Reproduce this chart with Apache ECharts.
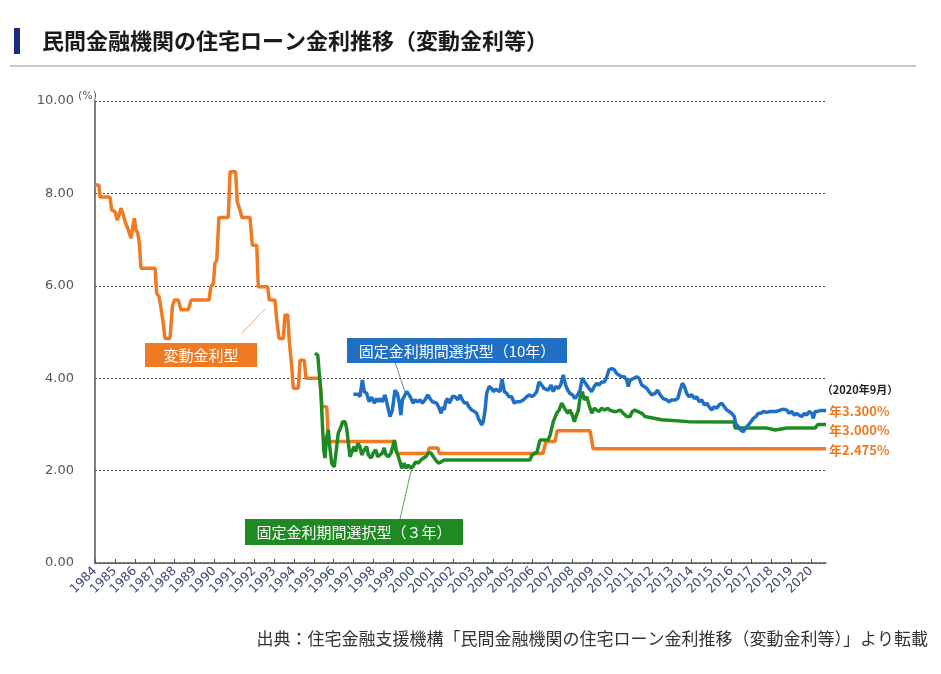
<!DOCTYPE html>
<html><head><meta charset="utf-8">
<script src="https://cdn.jsdelivr.net/npm/echarts@6/dist/echarts.min.js"></script>
<style>html,body{margin:0;padding:0;background:#fff}#c{width:941px;height:674px}</style>
</head><body><div id="c"></div>
<script>
const years = [];
for (let y = 1984; y <= 2020; y++) years.push(y);
const yTicks = [0, 2, 4, 6, 8, 10];

const titleText = '民間金融機関の住宅ローン金利推移（変動金利等）';
const sourceText = '出典：住宅金融支援機構「民間金融機関の住宅ローン金利推移（変動金利等）」より転載';
const nameVariable = '変動金利型';
const name10y = '固定金利期間選択型（10年）';
const name3y = '固定金利期間選択型（３年）';
const asOfText = '（2020年9月）';
const endLabels = ['年3.300%', '年3.000%', '年2.475%'];

const variableRate = [[1984.0,8.18],[1984.2,8.18],[1984.25,7.92],[1984.75,7.92],[1984.84,7.64],[1985.01,7.6],[1985.12,7.42],[1985.21,7.54],[1985.31,7.68],[1985.42,7.54],[1985.54,7.35],[1985.64,7.25],[1985.72,7.21],[1985.81,7.03],[1985.9,7.28],[1985.98,7.46],[1986.06,7.21],[1986.15,7.14],[1986.23,6.92],[1986.31,6.38],[1987.02,6.38],[1987.1,5.84],[1987.22,5.77],[1987.32,5.51],[1987.43,5.19],[1987.52,4.86],[1987.77,4.86],[1987.89,5.55],[1987.99,5.69],[1988.19,5.69],[1988.32,5.48],[1988.69,5.48],[1988.83,5.69],[1989.73,5.69],[1989.83,5.98],[1989.95,6.05],[1990.03,6.49],[1990.12,6.55],[1990.23,7.48],[1990.7,7.48],[1990.79,8.47],[1991.07,8.47],[1991.15,7.82],[1991.29,7.64],[1991.38,7.48],[1991.79,7.48],[1991.91,6.88],[1992.13,6.88],[1992.21,5.98],[1992.68,5.98],[1992.76,5.69],[1993.05,5.69],[1993.14,5.26],[1993.25,4.86],[1993.47,4.86],[1993.55,5.37],[1993.69,5.37],[1993.77,4.79],[1993.89,4.25],[1993.97,3.78],[1994.22,3.78],[1994.31,4.39],[1994.52,4.39],[1994.61,4.0],[1995.31,4.0],[1995.41,3.38],[1995.65,3.38],[1995.74,2.63],[1999.08,2.63],[1999.18,2.37],[2000.74,2.37],[2000.79,2.49],[2001.24,2.49],[2001.3,2.37],[2006.52,2.37],[2006.67,2.63],[2007.13,2.63],[2007.23,2.86],[2008.89,2.86],[2009.04,2.475],[2020.75,2.475]];

const fixed3y = [[1995.06,4.54],[1995.2,4.5],[1995.26,4.18],[1995.36,3.67],[1995.43,3.02],[1995.5,2.45],[1995.56,2.27],[1995.65,2.73],[1995.73,2.88],[1995.82,2.45],[1995.9,2.16],[1996.03,2.08],[1996.15,2.52],[1996.23,2.81],[1996.37,2.95],[1996.45,3.06],[1996.57,3.06],[1996.65,2.92],[1996.74,2.59],[1996.82,2.3],[1996.91,2.34],[1997.02,2.52],[1997.11,2.41],[1997.21,2.59],[1997.32,2.52],[1997.41,2.34],[1997.54,2.45],[1997.66,2.52],[1997.74,2.34],[1997.88,2.27],[1997.99,2.38],[1998.11,2.45],[1998.21,2.3],[1998.33,2.34],[1998.44,2.38],[1998.54,2.49],[1998.63,2.34],[1998.75,2.3],[1998.88,2.38],[1998.97,2.52],[1999.05,2.66],[1999.12,2.45],[1999.22,2.34],[1999.33,2.19],[1999.42,2.05],[1999.54,2.16],[1999.64,2.05],[1999.75,2.12],[1999.89,2.05],[2000.0,2.1],[2000.12,2.19],[2000.25,2.16],[2000.39,2.23],[2000.51,2.27],[2000.63,2.3],[2000.76,2.38],[2000.89,2.38],[2001.01,2.3],[2001.13,2.23],[2001.26,2.16],[2001.4,2.19],[2001.56,2.23],[2005.87,2.23],[2005.97,2.34],[2006.22,2.4],[2006.37,2.66],[2006.78,2.66],[2006.88,2.77],[2007.04,3.06],[2007.21,3.24],[2007.33,3.31],[2007.46,3.46],[2007.54,3.49],[2007.66,3.31],[2007.77,3.24],[2007.88,3.31],[2008.0,3.2],[2008.1,3.06],[2008.18,3.17],[2008.3,3.31],[2008.38,3.56],[2008.5,3.71],[2008.6,3.53],[2008.72,3.6],[2008.84,3.42],[2008.97,3.24],[2009.1,3.35],[2009.22,3.31],[2009.34,3.28],[2009.48,3.35],[2009.61,3.31],[2009.78,3.35],[2009.89,3.31],[2010.06,3.28],[2010.23,3.28],[2010.4,3.31],[2010.56,3.24],[2010.73,3.17],[2010.9,3.17],[2011.01,3.28],[2011.15,3.31],[2011.28,3.28],[2011.49,3.24],[2011.65,3.17],[2011.9,3.15],[2012.49,3.1],[2013.83,3.06],[2016.13,3.05],[2016.18,2.92],[2017.79,2.92],[2017.84,2.88],[2018.19,2.88],[2018.29,2.92],[2018.79,2.92],[2018.84,2.95],[2018.94,2.92],[2020.2,2.92],[2020.35,3.0],[2020.75,3.0]];

const fixed10y = [[1996.99,3.65],[1997.24,3.65],[1997.32,3.6],[1997.44,3.96],[1997.54,3.71],[1997.66,3.67],[1997.78,3.49],[1997.91,3.59],[1998.04,3.46],[1998.16,3.56],[1998.24,3.49],[1998.33,3.56],[1998.44,3.49],[1998.58,3.64],[1998.72,3.38],[1998.83,3.17],[1998.95,3.31],[1999.08,3.74],[1999.2,3.67],[1999.3,3.46],[1999.38,3.2],[1999.45,3.53],[1999.55,3.61],[1999.67,3.71],[1999.79,3.64],[1999.89,3.56],[2000.0,3.46],[2000.09,3.53],[2000.22,3.49],[2000.34,3.53],[2000.46,3.46],[2000.59,3.53],[2000.73,3.64],[2000.84,3.56],[2000.96,3.49],[2001.06,3.53],[2001.18,3.46],[2001.3,3.35],[2001.4,3.24],[2001.48,3.38],[2001.56,3.31],[2001.63,3.49],[2001.73,3.56],[2001.81,3.46],[2001.9,3.53],[2001.98,3.61],[2002.1,3.6],[2002.24,3.53],[2002.35,3.64],[2002.47,3.53],[2002.57,3.46],[2002.69,3.47],[2002.8,3.38],[2002.94,3.31],[2003.07,3.28],[2003.19,3.24],[2003.27,3.13],[2003.36,3.06],[2003.44,2.99],[2003.52,3.06],[2003.61,3.31],[2003.69,3.67],[2003.81,3.82],[2003.94,3.78],[2004.02,3.71],[2004.15,3.76],[2004.25,3.8],[2004.36,3.71],[2004.46,3.98],[2004.58,3.71],[2004.7,3.67],[2004.81,3.6],[2004.95,3.6],[2005.07,3.46],[2005.2,3.49],[2005.37,3.49],[2005.53,3.53],[2005.7,3.6],[2005.84,3.64],[2005.96,3.6],[2006.09,3.64],[2006.21,3.71],[2006.32,3.92],[2006.46,3.85],[2006.57,3.78],[2006.67,3.82],[2006.79,3.74],[2006.93,3.85],[2007.04,3.71],[2007.16,3.82],[2007.29,3.78],[2007.41,3.85],[2007.54,4.07],[2007.66,3.85],[2007.77,3.74],[2007.88,3.67],[2008.0,3.64],[2008.13,3.56],[2008.27,3.64],[2008.38,3.74],[2008.5,4.0],[2008.6,3.96],[2008.72,3.85],[2008.84,3.78],[2008.97,3.71],[2009.1,3.82],[2009.22,3.89],[2009.34,3.85],[2009.47,3.92],[2009.61,3.92],[2009.73,4.03],[2009.84,4.18],[2009.98,4.21],[2010.11,4.18],[2010.23,4.1],[2010.34,4.07],[2010.48,4.03],[2010.61,4.03],[2010.73,3.96],[2010.81,3.82],[2010.9,3.96],[2010.98,4.0],[2011.11,4.0],[2011.23,4.03],[2011.35,4.0],[2011.49,3.85],[2011.62,3.82],[2011.74,3.78],[2011.85,3.71],[2011.99,3.64],[2012.16,3.67],[2012.29,3.74],[2012.41,3.64],[2012.57,3.56],[2012.74,3.53],[2012.86,3.49],[2012.99,3.53],[2013.16,3.53],[2013.3,3.56],[2013.41,3.74],[2013.53,3.89],[2013.63,3.82],[2013.75,3.67],[2013.86,3.6],[2014.0,3.64],[2014.13,3.56],[2014.25,3.6],[2014.37,3.49],[2014.5,3.53],[2014.64,3.42],[2014.76,3.46],[2014.87,3.38],[2015.01,3.31],[2015.12,3.38],[2015.26,3.35],[2015.37,3.42],[2015.51,3.46],[2015.64,3.38],[2015.76,3.31],[2015.88,3.28],[2016.01,3.24],[2016.14,3.17],[2016.21,3.02],[2016.34,2.95],[2016.46,2.88],[2016.59,2.84],[2016.71,2.92],[2016.85,2.99],[2016.98,3.06],[2017.1,3.13],[2017.22,3.17],[2017.35,3.24],[2017.48,3.24],[2017.6,3.28],[2017.77,3.26],[2017.94,3.28],[2018.1,3.28],[2018.27,3.28],[2018.44,3.31],[2018.61,3.33],[2018.78,3.31],[2018.89,3.24],[2019.03,3.28],[2019.16,3.2],[2019.27,3.24],[2019.39,3.2],[2019.53,3.17],[2019.66,3.24],[2019.78,3.2],[2019.9,3.28],[2020.03,3.24],[2020.11,3.13],[2020.2,3.28],[2020.33,3.28],[2020.46,3.3],[2020.75,3.3]];

const ORANGE = '#f07a22', BLUE = '#1f70c4', GREEN = '#1f8a22';
const JP = '"Noto Sans CJK JP", "Noto Sans", sans-serif';
const NUM = '"DejaVu Sans", sans-serif';

const chart = echarts.init(document.getElementById('c'), null, {renderer: 'canvas'});
chart.setOption({
  animation: false,
  backgroundColor: '#fff',
  grid: {left: 95, right: 115, top: 101, bottom: 111, containLabel: false},
  xAxis: {
    type: 'value', min: years[0], max: 2020.75, interval: 1,
    axisLine: {show: true, lineStyle: {color: '#555', width: 1.5}},
    axisTick: {show: true, inside: true, length: 4, lineStyle: {color: '#555'}, customValues: years},
    axisLabel: {rotate: 45, margin: 6, color: '#3d4a70', fontSize: 12.5, fontFamily: NUM, customValues: years,
      formatter: v => String(v)},
    splitLine: {show: false}
  },
  yAxis: {
    type: 'value', min: yTicks[0], max: yTicks[yTicks.length - 1], interval: 2,
    axisLine: {show: true, lineStyle: {color: '#555', width: 1.5}},
    axisTick: {show: false},
    axisLabel: {margin: 21, color: '#555', fontSize: 13, fontFamily: NUM, formatter: v => v.toFixed(2)},
    splitLine: {show: true, lineStyle: {color: '#444', type: [2, 2], width: 1}}
  },
  series: [
    {name: nameVariable, type: 'line', data: variableRate, showSymbol: false, lineStyle: {color: ORANGE, width: 3.5}, z: 2},
    {name: name3y, type: 'line', data: fixed3y, showSymbol: false, lineStyle: {color: GREEN, width: 3.5}, z: 3},
    {name: name10y, type: 'line', data: fixed10y, showSymbol: false, lineStyle: {color: BLUE, width: 3.5}, z: 4}
  ],
  graphic: [
    {type: 'rect', shape: {x: 14, y: 28, width: 6, height: 26}, style: {fill: '#1b2d78'}},
    {type: 'text', style: {text: titleText, x: 42, y: 41, verticalAlign: 'middle', font: 'bold 22px ' + JP, fill: '#1a1a1a'}},
    {type: 'line', shape: {x1: 10, y1: 66, x2: 916, y2: 66}, style: {stroke: '#c8c8c8', lineWidth: 2}},
    {type: 'text', style: {text: '(%)', x: 78, y: 96, verticalAlign: 'middle', font: '11px ' + NUM, fill: '#555'}},
    {type: 'line', shape: {x1: 242, y1: 333, x2: 265, y2: 309}, style: {stroke: '#f0a878', lineWidth: 1}},
    {type: 'rect', shape: {x: 145, y: 343, width: 112, height: 24}, style: {fill: ORANGE}},
    {type: 'text', style: {text: nameVariable, x: 201, y: 355, align: 'center', verticalAlign: 'middle', font: '15px ' + JP, fill: '#fff'}},
    {type: 'line', shape: {x1: 395, y1: 362, x2: 405, y2: 392}, style: {stroke: '#6f8fb0', lineWidth: 1}},
    {type: 'rect', shape: {x: 347, y: 338, width: 220, height: 25}, style: {fill: BLUE}},
    {type: 'text', style: {text: name10y, x: 457, y: 351, align: 'center', verticalAlign: 'middle', font: '15px ' + JP, fill: '#fff'}},
    {type: 'line', shape: {x1: 400, y1: 519, x2: 411, y2: 471}, style: {stroke: '#5f9f5f', lineWidth: 1}},
    {type: 'rect', shape: {x: 245, y: 519, width: 218, height: 26}, style: {fill: GREEN}},
    {type: 'text', style: {text: name3y, x: 354, y: 532, align: 'center', verticalAlign: 'middle', font: '15px ' + JP, fill: '#fff'}},
    {type: 'text', style: {text: asOfText, x: 860, y: 390, align: 'center', verticalAlign: 'middle', font: 'bold 11px ' + JP, fill: '#222'}},
    {type: 'text', style: {text: endLabels[0], x: 829, y: 411, verticalAlign: 'middle', font: 'bold 13px ' + JP, fill: ORANGE}},
    {type: 'text', style: {text: endLabels[1], x: 829, y: 430, verticalAlign: 'middle', font: 'bold 13px ' + JP, fill: ORANGE}},
    {type: 'text', style: {text: endLabels[2], x: 829, y: 450, verticalAlign: 'middle', font: 'bold 13px ' + JP, fill: ORANGE}},
    {type: 'text', style: {text: sourceText, x: 928, y: 639, align: 'right', verticalAlign: 'middle', font: '17px ' + JP, fill: '#333'}}
  ]
});
</script>
</body></html>
